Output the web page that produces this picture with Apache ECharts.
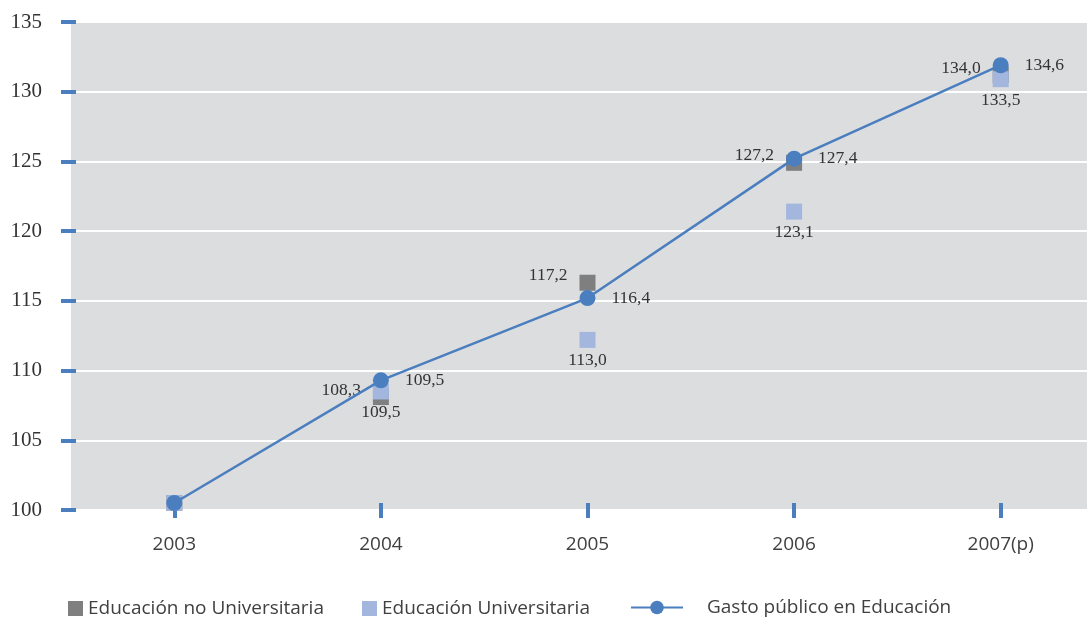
<!DOCTYPE html>
<html>
<head>
<meta charset="utf-8">
<script src="https://cdn.jsdelivr.net/npm/echarts@6/dist/echarts.min.js"></script>
<style>html,body{margin:0;padding:0;background:#fff;}#chart{width:1087px;height:617px;}</style>
</head>
<body>
<div id="chart"></div>
<script>
var categories = ['2003', '2004', '2005', '2006', '2007(p)'];
var yTicks = [100, 105, 110, 115, 120, 125, 130, 135];
var noUnivValues = [100.5, 108.1, 116.3, 124.9, 131.2];
var univValues = [100.5, 108.5, 112.2, 121.4, 130.9];
var gastoValues = [100.5, 109.3, 115.2, 125.2, 131.9];
var noUnivLabels = ['', '108,3', '117,2', '127,2', '134,0'];
var univLabels = ['', '109,5', '113,0', '123,1', '133,5'];
var gastoLabels = ['', '109,5', '116,4', '127,4', '134,6'];
var seriesNames = ['Educación no Universitaria', 'Educación Universitaria', 'Gasto público en Educación'];

var BLUE = '#4a7ebf', GREY = '#7f7f80', LIGHT = '#a2b6de';
var serif = 'Liberation Serif';
var sans = 'Open Sans';

function withLabels(vals, labels) {
  return vals.map(function (v, i) { return { value: v, labelText: labels[i] }; });
}
function fmt(p) { return p.data.labelText; }

var chart = echarts.init(document.getElementById('chart'), null, { renderer: 'canvas' });
var legendText = { fontFamily: sans, fontSize: 19, color: '#404040' };
chart.setOption({
  animation: false,
  grid: { left: 71, top: 22, width: 1033, bottom: 107, outerBoundsMode: 'none', containLabel: false,
          show: true, backgroundColor: '#dcdddf', borderWidth: 0 },
  legend: [
    { data: [seriesNames[0]], left: 63, top: 594, itemWidth: 15, itemHeight: 15, icon: 'rect', textStyle: legendText },
    { data: [seriesNames[1]], left: 357, top: 594, itemWidth: 15, itemHeight: 15, icon: 'rect', textStyle: legendText },
    { data: [seriesNames[2]], left: 625, top: 593, itemWidth: 52, itemHeight: 17,
      textStyle: { fontFamily: sans, fontSize: 19, color: '#404040', padding: [0, 0, 0, 19] } }
  ],
  xAxis: {
    type: 'category', data: categories, offset: -7,
    axisLine: { show: false },
    axisTick: { show: true, alignWithLabel: true, length: 15, lineStyle: { color: BLUE, width: 4 } },
    axisLabel: { margin: 32, fontFamily: sans, fontSize: 19, color: '#404040' },
    splitLine: { show: false }
  },
  yAxis: {
    type: 'value', min: yTicks[0], max: yTicks[yTicks.length - 1], interval: 5, offset: -5,
    axisLine: { show: false },
    axisTick: { show: true, length: 15, lineStyle: { color: BLUE, width: 4 } },
    axisLabel: { margin: 34, fontFamily: serif, fontSize: 21, color: '#333' },
    splitLine: { show: true, lineStyle: { color: '#ffffff', width: 2 } }
  },
  series: [
    {
      name: seriesNames[0], type: 'scatter', symbol: 'rect', symbolSize: 16, z: 2,
      itemStyle: { color: GREY, opacity: 1 },
      data: withLabels(noUnivValues, noUnivLabels),
      label: { show: true, position: 'left', distance: 12, offset: [0, -7], formatter: fmt, fontFamily: serif, fontSize: 17.5, color: '#333' }
    },
    {
      name: seriesNames[1], type: 'scatter', symbol: 'rect', symbolSize: 16, z: 3,
      itemStyle: { color: LIGHT, opacity: 1 },
      data: withLabels(univValues, univLabels),
      label: { show: true, position: 'bottom', distance: 4, formatter: fmt, fontFamily: serif, fontSize: 17.5, color: '#333' }
    },
    {
      name: seriesNames[2], type: 'line', symbol: 'circle', symbolSize: 16, z: 4,
      itemStyle: { color: BLUE }, lineStyle: { color: BLUE, width: 2.5 },
      data: withLabels(gastoValues, gastoLabels),
      label: { show: true, position: 'right', distance: 16, formatter: fmt, fontFamily: serif, fontSize: 17.5, color: '#333' }
    }
  ]
});
</script>
</body>
</html>
